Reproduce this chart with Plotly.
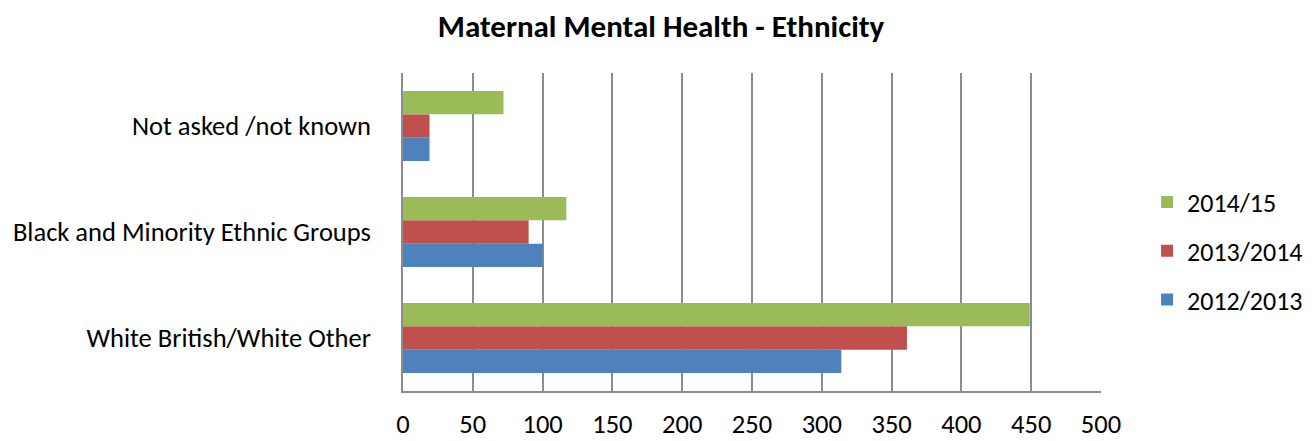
import plotly.graph_objects as go

categories = ["White British/White Other", "Black and Minority Ethnic Groups", "Not asked /not known"]
series_names = ["2012/2013", "2013/2014", "2014/15"]
values_2012_2013 = [314, 100, 19]
values_2013_2014 = [361, 90, 19]
values_2014_15 = [449, 117, 72]
colors = ["#4F81BD", "#C0504D", "#9BBB59"]
legend_ranks = [3, 2, 1]
x_ticks = [0, 50, 100, 150, 200, 250, 300, 350, 400, 450, 500]

fig = go.Figure()
for name, vals, col, rank in zip(series_names, [values_2012_2013, values_2013_2014, values_2014_15], colors, legend_ranks):
    fig.add_trace(go.Bar(
        y=categories, x=vals, name=name, orientation="h",
        marker=dict(color=col, line=dict(width=0)), legendgroup=name, legendrank=rank,
    ))

font_family = "Carlito, Lato, 'Open Sans', sans-serif"
# page body has an 8px margin; figure coords = window coords - 8
fig.update_layout(
    width=1306, height=433,
    margin=dict(l=395, r=213, t=65, b=50, autoexpand=False),
    paper_bgcolor="white", plot_bgcolor="white",
    barmode="group", bargap=0.34, bargroupgap=0,
    font=dict(family=font_family, size=26.5, color="black"),
    title=dict(text="<b>Maternal Mental Health - Ethnicity</b>", x=653 / 1306, xanchor="center",
               y=1 - 18 / 433, yanchor="middle", font=dict(size=31, family=font_family, color="black")),
    legend=dict(x=1.066, xanchor="left", y=0.44, yanchor="middle",
                traceorder="grouped", tracegroupgap=12,
                font=dict(size=26, family=font_family), itemwidth=30),
    showlegend=True,
)
fig.update_xaxes(
    range=[0, 500], tickvals=x_ticks, ticktext=[str(v) for v in x_ticks],
    showgrid=True, gridcolor="#8C8C8C", gridwidth=1.5,
    showline=True, linecolor="#8C8C8C", linewidth=1.5,
    zeroline=False, ticks="", ticklabelstandoff=8, fixedrange=True, automargin=False,
)
fig.update_yaxes(
    categoryorder="array", categoryarray=categories,
    showline=True, linecolor="#8C8C8C", linewidth=1.5,
    showgrid=False, ticks="", ticklabelstandoff=25, fixedrange=True, automargin=False,
)
fig.write_html("out.html")
